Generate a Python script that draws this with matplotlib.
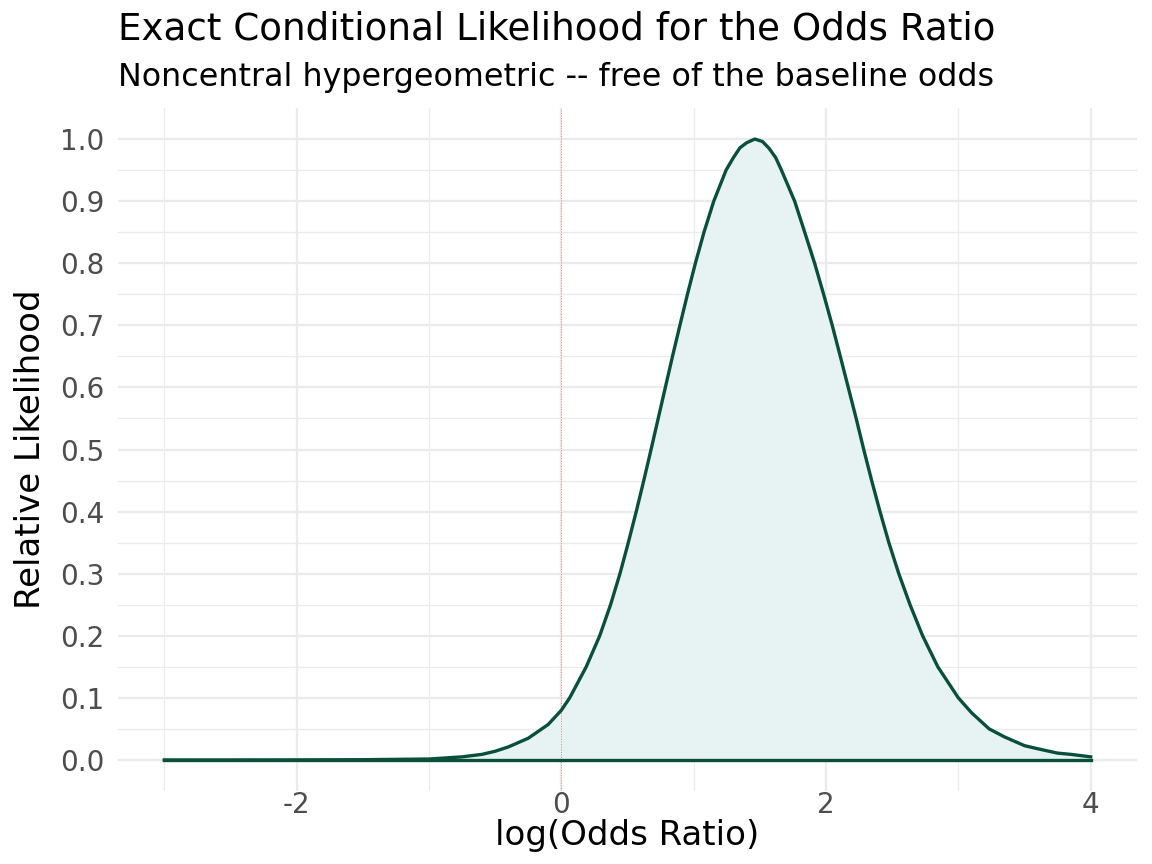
import matplotlib.pyplot as plt
from matplotlib.ticker import FixedLocator

# values (log odds ratio, relative likelihood)
log_or = [-3.0, -2.5, -2.0, -1.5, -1.0, -0.75, -0.6, -0.5, -0.4, -0.25,
          -0.1, 0.0, 0.063, 0.188, 0.29, 0.372, 0.443, 0.506, 0.566, 0.623,
          0.678, 0.732, 0.786, 0.84, 0.896, 0.953, 1.013, 1.078, 1.152, 1.245,
          1.30, 1.35, 1.40, 1.462, 1.52, 1.57, 1.62, 1.663, 1.763, 1.839,
          1.914, 1.982, 2.047, 2.108, 2.168, 2.228, 2.285, 2.345, 2.408, 2.475,
          2.55, 2.635, 2.73, 2.845, 3.0, 3.1, 3.233, 3.35, 3.5, 3.6,
          3.75, 3.85, 4.0]
rel_lik = [0.0, 0.0, 0.0001, 0.0004, 0.0015, 0.005, 0.009, 0.014, 0.021, 0.035,
           0.057, 0.08, 0.10, 0.15, 0.20, 0.25, 0.30, 0.35, 0.40, 0.45,
           0.50, 0.55, 0.60, 0.65, 0.70, 0.75, 0.80, 0.85, 0.90, 0.95,
           0.97, 0.986, 0.994, 1.0, 0.996, 0.985, 0.97, 0.95, 0.90, 0.85,
           0.80, 0.75, 0.70, 0.65, 0.60, 0.55, 0.50, 0.45, 0.40, 0.35,
           0.30, 0.25, 0.20, 0.15, 0.10, 0.076, 0.05, 0.037, 0.023, 0.018,
           0.011, 0.009, 0.005]

x_ticks = [-2, 0, 2, 4]
x_minor = [-3, -1, 1, 3]
y_ticks = [0.0, 0.1, 0.2, 0.3, 0.4, 0.5, 0.6, 0.7, 0.8, 0.9, 1.0]
y_minor = [0.05, 0.15, 0.25, 0.35, 0.45, 0.55, 0.65, 0.75, 0.85, 0.95]

line_col = '#0A4F3A'
fill_col = '#E7F3F2'
grid_col = '#EBEBEB'

fig = plt.figure(figsize=(11.52, 8.64), dpi=100)
ax = fig.add_axes([118/1152, 1 - 791/864, (1137 - 118)/1152, (791 - 108)/864])

ax.fill_between(log_or, 0, rel_lik, color=fill_col, zorder=2)
ax.plot(log_or, rel_lik, color=line_col, lw=2.4, zorder=4, solid_joinstyle='round')
ax.plot([log_or[0], log_or[-1]], [0, 0], color=line_col, lw=2.4, zorder=4)
ax.axvline(0, color='#C98A8A', lw=0.7, ls=':', zorder=3)

ax.set_xlim(-3.35, 4.35)
ax.set_ylim(-0.05, 1.05)
ax.xaxis.set_major_locator(FixedLocator(x_ticks))
ax.xaxis.set_minor_locator(FixedLocator(x_minor))
ax.yaxis.set_major_locator(FixedLocator(y_ticks))
ax.yaxis.set_minor_locator(FixedLocator(y_minor))
ax.set_xticklabels([str(v) for v in x_ticks])
ax.set_yticklabels([f'{v:.1f}' for v in y_ticks])

ax.grid(True, which='major', color=grid_col, lw=1.6, zorder=0)
ax.grid(True, which='minor', color=grid_col, lw=0.9, zorder=0)
ax.set_axisbelow(True)
for s in ax.spines.values():
    s.set_visible(False)
ax.tick_params(which='both', length=0, labelsize=20, labelcolor='#4D4D4D')
ax.tick_params(axis='y', pad=10)
ax.tick_params(axis='x', pad=0)

ax.set_xlabel('log(Odds Ratio)', fontsize=24.5, labelpad=0)
ax.set_ylabel('Relative Likelihood', fontsize=24.5, labelpad=9)

fig.text(118/1152, 1 - 40/864, 'Exact Conditional Likelihood for the Odds Ratio',
         fontsize=26.8, ha='left', va='baseline')
fig.text(118/1152, 1 - 86/864, 'Noncentral hypergeometric -- free of the baseline odds',
         fontsize=22.9, ha='left', va='baseline')

fig.savefig('out.png', dpi=100)
